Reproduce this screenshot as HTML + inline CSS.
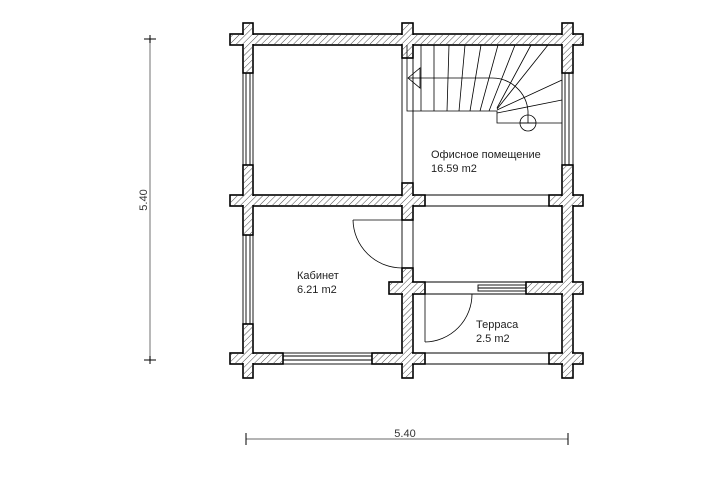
<!DOCTYPE html>
<html><head><meta charset="utf-8"><style>html,body{margin:0;padding:0;background:#fff}svg{display:block}</style></head>
<body>
<svg width="716" height="482" viewBox="0 0 716 482" xmlns="http://www.w3.org/2000/svg" font-family="Liberation Sans, sans-serif">
<defs>
<pattern id="h" width="4.5" height="4.5" patternUnits="userSpaceOnUse" patternTransform="rotate(45)">
<rect width="4.5" height="4.5" fill="#fff"/><line x1="0" y1="0" x2="0" y2="4.5" stroke="#333" stroke-width="0.9"/>
</pattern>
</defs>
<!-- dimensions -->
<g stroke="#888" stroke-width="1.2">
<line x1="150" y1="39" x2="150" y2="360"/>
<line x1="246" y1="439" x2="568" y2="439"/>
</g>
<g stroke="#000" stroke-width="1">
<line x1="144" y1="39" x2="156" y2="39"/><line x1="150" y1="35" x2="150" y2="43"/>
<line x1="144" y1="360" x2="156" y2="360"/><line x1="150" y1="356" x2="150" y2="364"/>
<line x1="246" y1="433" x2="246" y2="445"/><line x1="568" y1="433" x2="568" y2="445"/>
</g>
<text x="405" y="437" font-size="11" fill="#333" text-anchor="middle">5.40</text>
<text x="0" y="0" font-size="11" fill="#333" text-anchor="middle" transform="translate(147,200) rotate(-90)">5.40</text>

<!-- windows / thin walls -->
<g fill="none" stroke="#000" stroke-width="0.9">
<rect x="243" y="73" width="10" height="92"/><line x1="246" y1="73" x2="246" y2="165"/><line x1="250" y1="73" x2="250" y2="165"/>
<rect x="243" y="235" width="10" height="89"/><line x1="246" y1="235" x2="246" y2="324"/><line x1="250" y1="235" x2="250" y2="324"/>
<rect x="562" y="73" width="11" height="92"/><line x1="565" y1="73" x2="565" y2="165"/><line x1="569" y1="73" x2="569" y2="165"/>
<rect x="283" y="353" width="89" height="11"/><line x1="283" y1="356" x2="372" y2="356"/><line x1="283" y1="360" x2="372" y2="360"/>
<line x1="402" y1="58" x2="402" y2="183"/><line x1="413" y1="58" x2="413" y2="183"/>
<line x1="402" y1="220" x2="402" y2="268"/><line x1="413" y1="220" x2="413" y2="268"/>
<line x1="425" y1="195" x2="549" y2="195"/><line x1="425" y1="206" x2="549" y2="206"/>
<line x1="425" y1="353" x2="549" y2="353"/><line x1="425" y1="364" x2="549" y2="364"/>
<line x1="425" y1="282" x2="526" y2="282"/><line x1="425" y1="294" x2="526" y2="294"/>
<rect x="478" y="285" width="48" height="6"/><line x1="478" y1="288" x2="526" y2="288"/>
</g>
<!-- walls stroke layer -->
<g fill="#fff" stroke="#000" stroke-width="1.6">
<rect x="230" y="34" width="353" height="11"/>
<rect x="243" y="23" width="10" height="50"/>
<rect x="402" y="23" width="11" height="35"/>
<rect x="562" y="23" width="11" height="50"/>
<rect x="230" y="195" width="195" height="11"/>
<rect x="549" y="195" width="34" height="11"/>
<rect x="243" y="165" width="10" height="70"/>
<rect x="402" y="183" width="11" height="37"/>
<rect x="562" y="165" width="11" height="213"/>
<rect x="402" y="268" width="11" height="110"/>
<rect x="389" y="282" width="36" height="12"/>
<rect x="526" y="282" width="57" height="12"/>
<rect x="230" y="353" width="53" height="11"/>
<rect x="372" y="353" width="53" height="11"/>
<rect x="549" y="353" width="34" height="11"/>
<rect x="243" y="324" width="10" height="54"/>
</g>
<g fill="url(#h)" stroke="none">
<rect x="231" y="35" width="351" height="9"/>
<rect x="244" y="24" width="8" height="48"/>
<rect x="403" y="24" width="9" height="33"/>
<rect x="563" y="24" width="9" height="48"/>
<rect x="231" y="196" width="193" height="9"/>
<rect x="550" y="196" width="32" height="9"/>
<rect x="244" y="166" width="8" height="68"/>
<rect x="403" y="184" width="9" height="35"/>
<rect x="563" y="166" width="9" height="211"/>
<rect x="403" y="269" width="9" height="108"/>
<rect x="390" y="283" width="34" height="10"/>
<rect x="527" y="283" width="55" height="10"/>
<rect x="231" y="354" width="51" height="9"/>
<rect x="373" y="354" width="51" height="9"/>
<rect x="550" y="354" width="32" height="9"/>
<rect x="244" y="325" width="8" height="52"/>
</g>

<!-- stairs -->
<g fill="none" stroke="#000" stroke-width="0.8">
<polyline points="407,45 407,111 497,111 497,123 562,123"/>
<line x1="421" y1="45" x2="421" y2="111"/>
<line x1="434" y1="45" x2="434" y2="111"/>
<line x1="449" y1="45" x2="447" y2="111"/>
<line x1="465" y1="45" x2="459" y2="111"/>
<line x1="481" y1="45" x2="470" y2="111"/>
<line x1="498" y1="45" x2="480" y2="111"/>
<line x1="515" y1="45" x2="489" y2="111"/>
<line x1="531" y1="45" x2="497" y2="108"/>
<line x1="548" y1="45" x2="497" y2="109"/>
<line x1="562" y1="80" x2="497" y2="110"/>
<line x1="562" y1="100" x2="497" y2="113"/>
<path d="M408,78 H492 A36,36 0 0 1 528,111 V123"/>
<circle cx="528" cy="123" r="8"/>
<line x1="520" y1="123" x2="536" y2="123"/>
<polygon points="408,78 420,68 420,88"/>
</g>

<!-- doors -->
<g fill="none" stroke="#000" stroke-width="0.8">
<line x1="353" y1="220" x2="402" y2="220"/>
<path d="M353,220 A49,49 0 0 0 402,268"/>
<line x1="425" y1="294" x2="425" y2="342"/>
<path d="M425,342 A48,48 0 0 0 472,294"/>
</g>

<g font-size="11" fill="#222">
<text x="431" y="158">Офисное помещение</text>
<text x="431" y="172">16.59 m2</text>
<text x="297" y="279">Кабинет</text>
<text x="297" y="293">6.21 m2</text>
<text x="476" y="328">Терраса</text>
<text x="476" y="342">2.5 m2</text>
</g>
</svg>
</body></html>
